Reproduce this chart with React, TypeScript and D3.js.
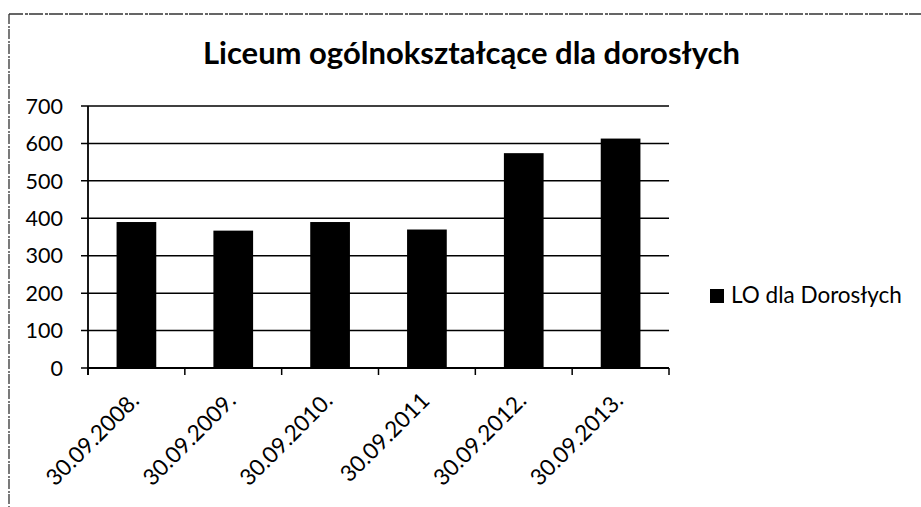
import React from "react";
import * as d3 from "d3";

const categories = ["30.09.2008.", "30.09.2009.", "30.09.2010.", "30.09.2011", "30.09.2012.", "30.09.2013."];
const values = [390, 367, 390, 370, 574, 613];
const yTicks = [0, 100, 200, 300, 400, 500, 600, 700];
const title = "Liceum ogólnokształcące dla dorosłych";
const seriesName = "LO dla Dorosłych";

const W = 921;
const H = 507;
const FONT = "Lato, 'Open Sans', sans-serif";

export default function App() {
  const x0 = 88, x1 = 669, yTop = 106, yBot = 368;
  const x = d3.scaleBand<string>().domain(categories).range([x0, x1]).paddingInner(0).paddingOuter(0);
  const y = d3.scaleLinear().domain([0, 700]).range([yBot, yTop]);
  const bw = x.bandwidth() * 0.41;
  const tickXs = [...categories.map((c) => x(c)!), x1];

  return (
    <svg width={W} height={H} style={{ position: "absolute", left: 0, top: 0, background: "#fff" }}>
      <rect x={0} y={0} width={W} height={H} fill="#fff" />
      {/* frame */}
      <line x1={9} y1={14} x2={W} y2={14} stroke="#333" strokeWidth={1.3} strokeDasharray="14 2 3 1" />
      <line x1={9} y1={14} x2={9} y2={H} stroke="#333" strokeWidth={1.3} strokeDasharray="10 2 2 1" />
      {/* title */}
      <text x={471.5} y={64} textAnchor="middle" fontFamily={FONT} fontWeight="bold" fontSize={31} fill="#000">
        {title}
      </text>
      {/* gridlines + y ticks */}
      {yTicks.map((t) => (
        <g key={t}>
          <line x1={81} x2={x1} y1={y(t)} y2={y(t)} stroke="#000" strokeWidth={1.5} />
          <text x={63} y={y(t)} dy="0.36em" textAnchor="end" fontFamily={FONT} fontSize={21.5} fill="#000">
            {t}
          </text>
        </g>
      ))}
      {/* bars */}
      {categories.map((c, i) => (
        <rect
          key={c}
          x={x(c)! + (x.bandwidth() - bw) / 2}
          y={y(values[i])}
          width={bw}
          height={y(0) - y(values[i])}
          fill="#000"
        />
      ))}
      {/* axes */}
      <line x1={x0} x2={x0} y1={yTop} y2={yBot + 7} stroke="#000" strokeWidth={1.8} />
      <line x1={x0} x2={x1} y1={yBot} y2={yBot} stroke="#000" strokeWidth={1.8} />
      {tickXs.map((tx, i) => (
        <line key={i} x1={tx} x2={tx} y1={yBot} y2={yBot + 7} stroke="#000" strokeWidth={1.5} />
      ))}
      {/* x labels */}
      {categories.map((c) => {
        const cx = x(c)! + x.bandwidth() / 2 + 4;
        const cy = yBot + 34;
        return (
          <text
            key={c}
            transform={`translate(${cx},${cy}) rotate(-45)`}
            textAnchor="end"
            fontFamily={FONT}
            fontSize={22.5}
            fill="#000"
          >
            {c}
          </text>
        );
      })}
      {/* legend */}
      <rect x={710} y={289} width={14} height={14} fill="#000" />
      <text x={731} y={303} fontFamily={FONT} fontSize={22.5} fill="#000">
        {seriesName}
      </text>
    </svg>
  );
}
